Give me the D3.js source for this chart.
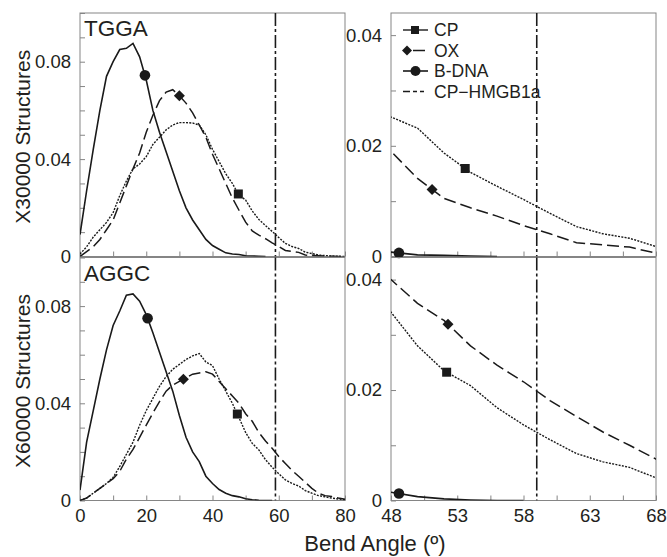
<!DOCTYPE html>
<head>
    <meta charset="utf-8">
    <script src="https://d3js.org/d3.v7.min.js"></script>
    <style>
        body { margin: 0; background: #fff; }
        text { font-family: "Liberation Sans", Arial, sans-serif; fill: #231f20; }
    </style>
</head>
<body>
    <svg></svg>
    <script>
        // bend angles (degrees) shared by every series
        var angles = [0, 2, 4, 6, 8, 10, 12, 14, 16, 18, 20, 22, 24, 26, 28, 30, 32, 34, 36, 38, 40,
                      42, 44, 46, 48, 50, 52, 54, 56, 58, 60, 62, 64, 66, 68, 70, 72, 74, 76, 78, 80];

        // TGGA, fraction of 30000 structures
        var tggaBDNA = [0.009, 0.027, 0.044, 0.060, 0.074, 0.080, 0.085, 0.0855, 0.0875, 0.082, 0.0725,
                        0.060, 0.051, 0.043, 0.035, 0.027, 0.020, 0.015, 0.011, 0.007, 0.0045,
                        0.003, 0.0015, 0.001, 0.0008, 0.0003, 0.0002, 0.0001, 0, null, null,
                        null, null, null, null, null, null, null, null, null, null];
        var tggaOX = [0, 0.002, 0.004, 0.007, 0.011, 0.015, 0.022, 0.029, 0.036, 0.0425, 0.051,
                      0.058, 0.064, 0.0675, 0.0685, 0.066, 0.063, 0.059, 0.054, 0.049, 0.042,
                      0.036, 0.030, 0.024, 0.019, 0.0141, 0.0105, 0.0088, 0.0073, 0.0056, 0.0041,
                      0.0025, 0.0021, 0.0017, 0.0006, 0.0004, 0.0003, 0.0002, 0.0001, 0, 0];
        var tggaCP = [0.001, 0.004, 0.008, 0.011, 0.014, 0.018, 0.025, 0.031, 0.036, 0.038, 0.041,
                      0.046, 0.049, 0.052, 0.054, 0.055, 0.055, 0.0548, 0.054, 0.050, 0.044,
                      0.039, 0.034, 0.030, 0.0252, 0.0232, 0.0187, 0.0152, 0.0127, 0.0103, 0.0078,
                      0.0054, 0.0041, 0.0033, 0.0018, 0.0012, 0.0006, 0.0004, 0.0002, 0.0001, 0];

        // AGGC, fraction of 60000 structures
        var aggcBDNA = [0.0043, 0.024, 0.037, 0.050, 0.062, 0.072, 0.078, 0.0845, 0.085, 0.082, 0.0765,
                        0.069, 0.061, 0.053, 0.045, 0.035, 0.026, 0.020, 0.016, 0.010, 0.007,
                        0.0045, 0.003, 0.002, 0.0015, 0.0007, 0.0003, 0.0001, 0, 0, null,
                        null, null, null, null, null, null, null, null, null, null];
        var aggcOX = [0, 0.001, 0.003, 0.005, 0.007, 0.009, 0.012, 0.017, 0.021, 0.026, 0.031,
                      0.036, 0.0407, 0.045, 0.0475, 0.049, 0.0505, 0.052, 0.0525, 0.053, 0.052,
                      0.049, 0.046, 0.043, 0.040, 0.0357, 0.0326, 0.028, 0.0245, 0.0215, 0.0181,
                      0.0152, 0.0124, 0.0100, 0.0075, 0.005, 0.003, 0.002, 0.0016, 0.001, 0.0005];
        var aggcCP = [0, 0.001, 0.003, 0.005, 0.007, 0.0095, 0.014, 0.019, 0.024, 0.031, 0.037,
                      0.042, 0.047, 0.051, 0.054, 0.056, 0.058, 0.0595, 0.0605, 0.057, 0.0555,
                      0.050, 0.045, 0.040, 0.0341, 0.028, 0.0235, 0.0208, 0.0168, 0.0137, 0.011,
                      0.0085, 0.007, 0.006, 0.0041, 0.003, 0.002, 0.0015, 0.001, 0.0006, 0.0003];

        // bend angle of CP-HMGB1a
        var hmgb1aAngle = 59;

        // where the symbols sit on each curve (angle), per panel
        var markersTggaLeft = { cp: 47.8, ox: 30, bdna: 19.6 };
        var markersTggaRight = { cp: 53.6, ox: 51.1, bdna: 48.6 };
        var markersAggcLeft = { cp: 47.5, ox: 31.2, bdna: 20.4 };
        var markersAggcRight = { cp: 52.2, ox: 52.3, bdna: 48.6 };

        var legendNames = ["CP", "OX", "B-DNA", "CP\u2212HMGB1a"];

        var width = 667, height = 557;
        var svg = d3.select("svg").attr("width", width).attr("height", height);

        var frameColor = "#858585", ink = "#1a1a1a";
        var styles = {
            cp: { dash: "2,1.3", width: 1.4 },
            ox: { dash: "12,5", width: 1.5 },
            bdna: { dash: null, width: 1.6 }
        };

        var rows = [
            { top: 13, bottom: 256.5, label: "TGGA", title: "X30000 Structures",
              series: { cp: tggaCP, ox: tggaOX, bdna: tggaBDNA },
              markers: [markersTggaLeft, markersTggaRight], xLabels: false },
            { top: 257.5, bottom: 500.5, label: "AGGC", title: "X60000 Structures",
              series: { cp: aggcCP, ox: aggcOX, bdna: aggcBDNA },
              markers: [markersAggcLeft, markersAggcRight], xLabels: true }
        ];
        var cols = [
            { left: 80, right: 345, xDomain: [0, 80], xTicks: d3.range(0, 81, 10), xLabelEvery: 20,
              yMax: 0.1, yTicks: d3.range(0, 0.1001, 0.01), yLabelEvery: 0.04 },
            { left: 391, right: 656, xDomain: [48, 68], xTicks: d3.range(48, 68.01, 2.5), xLabelEvery: 5,
              yMax: 0.044, yTicks: d3.range(0, 0.0401, 0.01), yLabelEvery: 0.02 }
        ];

        function valueAt(series, a) {
            var i = d3.bisectLeft(angles, a);
            if (i <= 0) return series[0];
            var a0 = angles[i - 1], a1 = angles[i];
            var t = (a - a0) / (a1 - a0);
            return series[i - 1] + t * (series[i] - series[i - 1]);
        }

        function isMultiple(v, step) {
            var r = Math.abs(v / step - Math.round(v / step));
            return r < 1e-6;
        }

        rows.forEach(function (row, ri) {
            cols.forEach(function (col, ci) {
                var x = d3.scaleLinear().domain(col.xDomain).range([col.left, col.right]);
                var y = d3.scaleLinear().domain([0, col.yMax]).range([row.bottom, row.top]);
                var g = svg.append("g");
                var clipId = "clip" + ri + ci;

                g.append("clipPath").attr("id", clipId)
                    .append("rect")
                    .attr("x", col.left).attr("y", row.top - 2)
                    .attr("width", col.right - col.left).attr("height", row.bottom - row.top + 2);

                // x ticks (inward)
                var xAxis = d3.axisBottom(x)
                    .tickValues(col.xTicks)
                    .tickSizeInner(-5).tickSizeOuter(0)
                    .tickPadding(8)
                    .tickFormat(function (d) {
                        return row.xLabels && isMultiple(d - col.xDomain[0], col.xLabelEvery) ? d3.format("d")(d) : "";
                    });
                var xg = g.append("g").attr("transform", "translate(0," + row.bottom + ")").call(xAxis);
                xg.select(".domain").remove();
                xg.selectAll("line").attr("stroke", frameColor);
                xg.selectAll("text").attr("font-size", 18.5).attr("fill", "#231f20")
                    .attr("font-family", "Liberation Sans, Arial, sans-serif");

                // y ticks (inward)
                var yAxis = d3.axisLeft(y)
                    .tickValues(col.yTicks)
                    .tickSizeInner(-5).tickSizeOuter(0)
                    .tickPadding(9)
                    .tickFormat(function (d) {
                        if (!isMultiple(d, col.yLabelEvery)) return "";
                        return d === 0 ? "0" : d3.format(".2f")(d);
                    });
                var yg = g.append("g").attr("transform", "translate(" + col.left + ",0)").call(yAxis);
                yg.select(".domain").remove();
                yg.selectAll("line").attr("stroke", frameColor);
                yg.selectAll("text").attr("font-size", 18.5).attr("fill", "#231f20")
                    .attr("font-family", "Liberation Sans, Arial, sans-serif");

                // frame
                g.append("rect")
                    .attr("x", col.left).attr("y", row.top)
                    .attr("width", col.right - col.left).attr("height", row.bottom - row.top)
                    .attr("fill", "none").attr("stroke", frameColor).attr("stroke-width", 1);

                var plot = g.append("g").attr("clip-path", "url(#" + clipId + ")");

                // CP-HMGB1a bend angle
                plot.append("line")
                    .attr("x1", x(hmgb1aAngle)).attr("x2", x(hmgb1aAngle))
                    .attr("y1", row.top).attr("y2", row.bottom)
                    .attr("stroke", ink).attr("stroke-width", 1.6)
                    .attr("stroke-dasharray", "13,3,3,3");

                ["cp", "ox", "bdna"].forEach(function (key) {
                    var vals = row.series[key];
                    var line = d3.line()
                        .defined(function (d, i) { return vals[i] !== null; })
                        .x(function (d, i) { return x(angles[i]); })
                        .y(function (d) { return y(d); });
                    plot.append("path")
                        .datum(vals)
                        .attr("d", line)
                        .attr("fill", "none")
                        .attr("stroke", ink)
                        .attr("stroke-width", styles[key].width)
                        .attr("stroke-dasharray", styles[key].dash);
                });

                // symbols
                var m = row.markers[ci];
                var sym = svg.append("g");
                var cpA = m.cp, oxA = m.ox, bA = m.bdna;
                sym.append("rect")
                    .attr("x", x(cpA) - 4.5).attr("y", y(valueAt(row.series.cp, cpA)) - 4.5)
                    .attr("width", 9).attr("height", 9).attr("fill", ink);
                sym.append("path")
                    .attr("transform", "translate(" + x(oxA) + "," + y(valueAt(row.series.ox, oxA)) + ")")
                    .attr("d", "M0,-5.5L5.5,0L0,5.5L-5.5,0Z").attr("fill", ink);
                sym.append("circle")
                    .attr("cx", x(bA)).attr("cy", y(valueAt(row.series.bdna, bA)))
                    .attr("r", 5.3).attr("fill", ink);

                if (ci === 0) {
                    svg.append("text")
                        .attr("x", col.left + 4).attr("y", row.top + 23)
                        .attr("font-size", 22.5)
                        .text(row.label);
                    svg.append("text")
                        .attr("transform", "translate(30," + ((row.top + row.bottom) / 2 + 2) + ") rotate(-90)")
                        .attr("text-anchor", "middle")
                        .attr("font-size", 21)
                        .text(row.title);
                }
            });
        });

        // legend in the top right panel
        var legend = svg.append("g").attr("transform", "translate(403,30)");
        var rowGap = 20.5;
        legendNames.forEach(function (name, i) {
            var item = legend.append("g").attr("transform", "translate(0," + (i * rowGap) + ")");
            if (i === 0) {
                item.append("line").attr("x1", 0).attr("x2", 25).attr("stroke", ink).attr("stroke-width", 1.4);
                item.append("rect").attr("x", 8).attr("y", -4).attr("width", 8).attr("height", 8).attr("fill", ink);
            } else if (i === 1) {
                item.append("line").attr("x1", 10).attr("x2", 22).attr("stroke", ink).attr("stroke-width", 1.5);
                item.append("path").attr("transform", "translate(4,0)")
                    .attr("d", "M0,-5L5,0L0,5L-5,0Z").attr("fill", ink);
            } else if (i === 2) {
                item.append("line").attr("x1", 0).attr("x2", 25).attr("stroke", ink).attr("stroke-width", 1.6);
                item.append("circle").attr("cx", 12.5).attr("cy", 0).attr("r", 5).attr("fill", ink);
            } else {
                item.append("line").attr("x1", 0).attr("x2", 25).attr("stroke", ink).attr("stroke-width", 1.4)
                    .attr("stroke-dasharray", "7,3,4,3,4");
            }
            item.append("text")
                .attr("x", 31).attr("y", 6)
                .attr("font-size", 17.5)
                .text(name);
        });

        // shared x axis title
        svg.append("text")
            .attr("x", 375).attr("y", 551)
            .attr("text-anchor", "middle")
            .attr("font-size", 22)
            .text("Bend Angle (\u00ba)");
    </script>
</body>
